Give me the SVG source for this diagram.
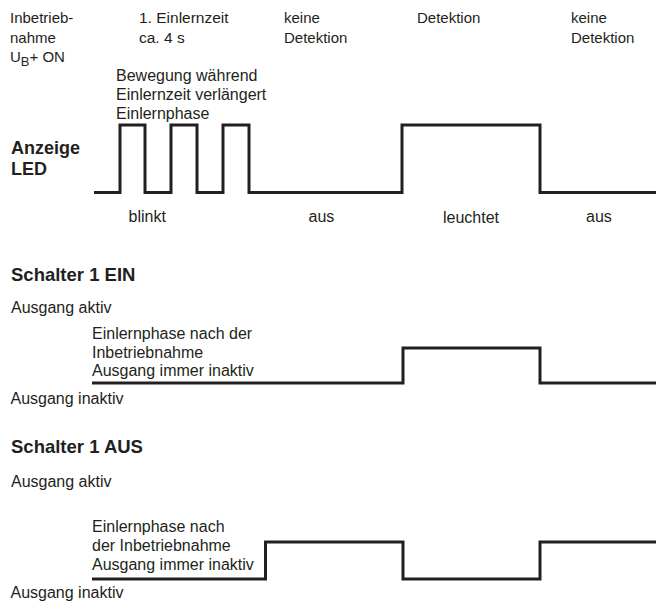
<svg xmlns="http://www.w3.org/2000/svg" width="656" height="603" viewBox="0 0 656 603">
<style>
  text { font-family: "Liberation Sans", Arial, Helvetica, sans-serif; fill: #231f20; }
  .t15 { font-size: 15px; }
  .t155 { font-size: 15.5px; }
  .t16 { font-size: 16px; }
  .b18 { font-size: 18px; font-weight: bold; }
  .b185 { font-size: 18.5px; font-weight: bold; }
  .wave { fill: none; stroke: #231f20; stroke-width: 3; stroke-linejoin: miter; stroke-linecap: butt; }
</style>
<rect width="656" height="603" fill="#ffffff"/>

<g id="header-labels">
  <text class="t15" x="10" y="23">Inbetrieb-</text>
  <text class="t15" x="10" y="42.5">nahme</text>
  <text class="t15" x="10" y="62">U<tspan font-size="13" dy="4">B</tspan><tspan dy="-4">+ ON</tspan></text>
  <text class="t155" x="139" y="23">1. Einlernzeit</text>
  <text class="t155" x="139" y="42.5">ca. 4 s</text>
  <text class="t15" x="284" y="23">keine</text>
  <text class="t15" x="284" y="42.5">Detektion</text>
  <text class="t15" x="417" y="23">Detektion</text>
  <text class="t15" x="571" y="23">keine</text>
  <text class="t15" x="571" y="42.5">Detektion</text>
</g>

<g id="led-section">
  <text class="t16" x="116" y="81">Bewegung während</text>
  <text class="t16" x="116" y="100">Einlernzeit verlängert</text>
  <text class="t16" x="116" y="119">Einlernphase</text>
  <text class="b18" x="11" y="153.5">Anzeige</text>
  <text class="b18" x="11" y="175">LED</text>
  <polyline id="led-wave" class="wave" points="94,192.5 120,192.5 120,125 145,125 145,192.5 171,192.5 171,125 197,125 197,192.5 223,192.5 223,125 249,125 249,192.5 402,192.5 402,125 540,125 540,192.5 656,192.5"/>
  <text class="t16" x="128.5" y="222">blinkt</text>
  <text class="t16" x="308.5" y="222">aus</text>
  <text class="t16" x="443" y="223">leuchtet</text>
  <text class="t16" x="586" y="222">aus</text>
</g>

<g id="schalter-ein">
  <text class="b185" x="11" y="281">Schalter 1 EIN</text>
  <text class="t16" x="11" y="313">Ausgang aktiv</text>
  <text class="t16" x="92" y="339">Einlernphase nach der</text>
  <text class="t16" x="92" y="357.5">Inbetriebnahme</text>
  <text class="t16" x="92" y="376">Ausgang immer inaktiv</text>
  <polyline id="ein-wave" class="wave" points="92,383 403,383 403,348 540,348 540,383 656,383"/>
  <text class="t16" x="10.5" y="404">Ausgang inaktiv</text>
</g>

<g id="schalter-aus">
  <text class="b185" x="11" y="453">Schalter 1 AUS</text>
  <text class="t16" x="11" y="487">Ausgang aktiv</text>
  <text class="t16" x="92" y="532">Einlernphase nach</text>
  <text class="t16" x="92" y="551">der Inbetriebnahme</text>
  <text class="t16" x="92" y="570">Ausgang immer inaktiv</text>
  <polyline id="aus-wave" class="wave" points="92,579 265.5,579 265.5,542 403,542 403,579 540,579 540,542 656,542"/>
  <text class="t16" x="10.5" y="598">Ausgang inaktiv</text>
</g>
</svg>
